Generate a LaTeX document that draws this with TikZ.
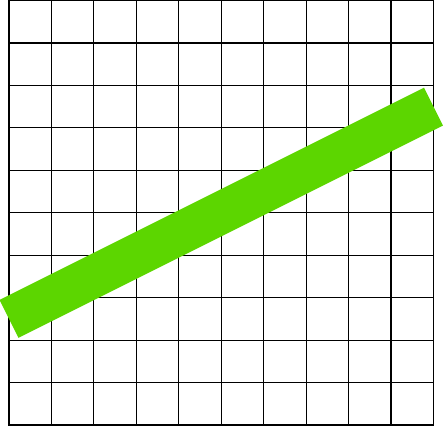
\documentclass[tikz,border=0pt]{standalone}
\definecolor{bandgreen}{RGB}{92,214,0}
\begin{document}
\begin{tikzpicture}[x=1cm,y=1cm]
  \tikzset{
    cellline/.style={draw=black,line width=0.8pt},
    frame/.style={draw=black,line width=1.3pt},
    band/.style={draw=bandgreen,line width=1cm,line cap=butt}
  }
  \useasboundingbox (-0.212,-0.047) rectangle (10.247,10.012);

  % Ten by ten unit grid.
  \foreach \i in {1,...,9} {
    \draw[cellline] (\i,0) -- (\i,10);
    \draw[cellline] (0,\i) -- (10,\i);
  }
  \draw[frame] (0,0) rectangle (10,10);

  % Thick green line of slope one half.
  \draw[band] (0,2.5) -- (10,7.5);
\end{tikzpicture}
\end{document}
